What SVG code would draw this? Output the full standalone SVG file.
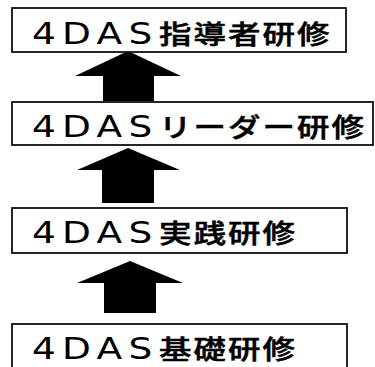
<svg xmlns="http://www.w3.org/2000/svg" width="375" height="367" viewBox="0 0 375 367">
<style>
.box{fill:#fff;stroke:#000;stroke-width:1.7}
.arr{fill:#000;stroke:none}
.lbl{fill:#000}
.lat{font-family:"DejaVu Sans","Liberation Sans",sans-serif;font-size:30px;letter-spacing:5px}
.cjk{font-family:"Noto Sans CJK JP","Noto Sans CJK SC",sans-serif;font-size:26px;font-weight:500;letter-spacing:1.6px;stroke:#000;stroke-width:0.5}
</style>
<rect width="375" height="367" fill="#fff"/>
<g id="connectors">
<polygon class="arr" points="128,51 75,76 103,76 103,101 154,101 154,76 181,76"/>
<polygon class="arr" points="128,148 77,170 102,170 102,203 154,203 154,170 180,170"/>
<polygon class="arr" points="130,261 77,283 104,283 104,313 156,313 156,283 183,283"/>
</g>
<g id="node-shidousha">
<rect class="box" x="12" y="8" width="334" height="44"/>
<text class="lbl" transform="translate(32,44) scale(1.25,1)"><tspan class="lat" x="0" y="0">4DAS</tspan><tspan class="cjk" x="101.6" y="0">指導者研修</tspan></text>
</g>
<g id="node-leader">
<rect class="box" x="12" y="102" width="361" height="43"/>
<text class="lbl" transform="translate(32,137) scale(1.25,1)"><tspan class="lat" x="0" y="0">4DAS</tspan><tspan class="cjk" x="101.6" y="0">リーダー研修</tspan></text>
</g>
<g id="node-jissen">
<rect class="box" x="12" y="208" width="335" height="45"/>
<text class="lbl" transform="translate(32,243) scale(1.25,1)"><tspan class="lat" x="0" y="0">4DAS</tspan><tspan class="cjk" x="101.6" y="0">実践研修</tspan></text>
</g>
<g id="node-kiso">
<rect class="box" x="12" y="324" width="335" height="50"/>
<text class="lbl" transform="translate(32,359) scale(1.25,1)"><tspan class="lat" x="0" y="0">4DAS</tspan><tspan class="cjk" x="101.6" y="0">基礎研修</tspan></text>
</g>
</svg>
